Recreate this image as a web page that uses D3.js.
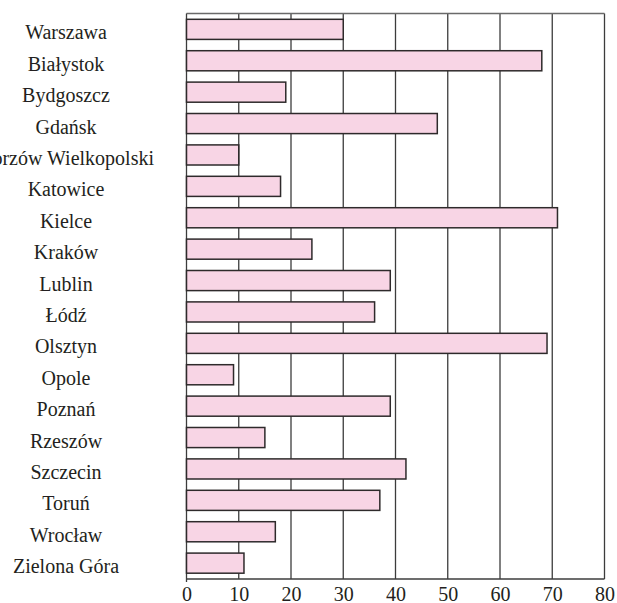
<!DOCTYPE html>
<html>
<head>
<meta charset="utf-8">
<script src="https://cdn.jsdelivr.net/npm/d3@7"></script>
<style>
  html, body { margin: 0; padding: 0; background: #fff; }
  svg { display: block; }
</style>
</head>
<body>
<svg id="chart" width="617" height="603"></svg>
<script>
// Cities (top to bottom) and their values
const cities = [
  "Warszawa", "Białystok", "Bydgoszcz", "Gdańsk", "Gorzów Wielkopolski",
  "Katowice", "Kielce", "Kraków", "Lublin", "Łódź", "Olsztyn", "Opole",
  "Poznań", "Rzeszów", "Szczecin", "Toruń", "Wrocław", "Zielona Góra"
];
const values = [30, 68, 19, 48, 10, 18, 71, 24, 39, 36, 69, 9, 39, 15, 42, 37, 17, 11];
const xTicks = [0, 10, 20, 30, 40, 50, 60, 70, 80];

const serif = "'Liberation Serif', 'Times New Roman', Times, serif";
const textColor = "#231f20";

const svg = d3.select("#chart");
const plot = { left: 186.5, right: 604.5, top: 13.5, bottom: 579 };

const x = d3.scaleLinear().domain([0, 80]).range([plot.left, plot.right]);
const y = d3.scaleBand()
  .domain(cities)
  .range([plot.top, plot.bottom])
  .paddingInner(0.36)
  .paddingOuter(0.185);

const lineColor = "#3c3c3c";

// vertical grid lines
svg.append("g")
  .selectAll("line")
  .data(xTicks.slice(1))
  .join("line")
  .attr("x1", d => x(d)).attr("x2", d => x(d))
  .attr("y1", plot.top).attr("y2", plot.bottom)
  .attr("stroke", lineColor)
  .attr("stroke-width", 1.3);

// frame: top and bottom
svg.append("line")
  .attr("x1", plot.left).attr("x2", plot.right)
  .attr("y1", plot.top).attr("y2", plot.top)
  .attr("stroke", "#6a6a6a").attr("stroke-width", 1.3);
svg.append("line")
  .attr("x1", plot.left).attr("x2", plot.right)
  .attr("y1", plot.bottom).attr("y2", plot.bottom)
  .attr("stroke", lineColor).attr("stroke-width", 1.3);
// left axis line
svg.append("line")
  .attr("x1", plot.left).attr("x2", plot.left)
  .attr("y1", plot.top).attr("y2", plot.bottom + 3)
  .attr("stroke", lineColor).attr("stroke-width", 1.3);

// bars
svg.append("g")
  .selectAll("rect")
  .data(cities)
  .join("rect")
  .attr("x", x(0))
  .attr("y", d => y(d))
  .attr("width", (d, i) => x(values[i]) - x(0))
  .attr("height", y.bandwidth())
  .attr("fill", "#f8d5e5")
  .attr("stroke", "#2e2a2b")
  .attr("stroke-width", 1.5);

// category labels, centred in the left margin
svg.append("g")
  .selectAll("text")
  .data(cities)
  .join("text")
  .attr("x", 66)
  .attr("y", d => y(d) + y.bandwidth() / 2 + 10)
  .attr("text-anchor", "middle")
  .style("font-family", serif)
  .style("font-size", "20px")
  .style("fill", textColor)
  .text(d => d);

// x axis tick labels
const xAxis = d3.axisBottom(x).tickValues(xTicks).tickSize(0).tickPadding(0);
const gx = svg.append("g")
  .attr("transform", `translate(0, ${plot.bottom})`)
  .call(xAxis);
gx.select(".domain").remove();
gx.selectAll("text")
  .style("font-family", serif)
  .style("font-size", "20px")
  .style("fill", textColor)
  .attr("dy", null)
  .attr("y", 22);
</script>
</body>
</html>
